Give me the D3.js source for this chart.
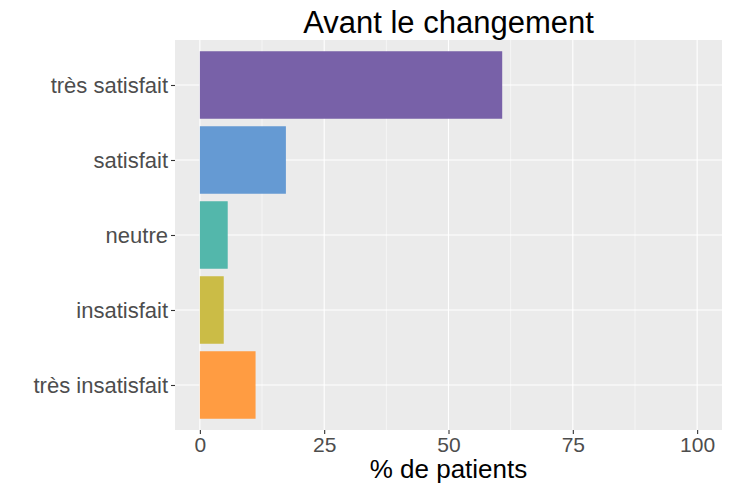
<!DOCTYPE html>
<html><head><meta charset="utf-8">
<script src="https://cdn.jsdelivr.net/npm/d3@7"></script>
<style>body{margin:0;background:#fff;} svg{display:block;font-family:Arial,"Liberation Sans",sans-serif;}</style>
</head><body>
<svg id="chart" width="730" height="490"></svg>
<script>
const categories = ["très satisfait","satisfait","neutre","insatisfait","très insatisfait"];
const values = [60.8, 17.3, 5.6, 4.8, 11.2];
const colors = ["#7861A8","#659AD3","#53B7AB","#CBBC46","#FF9C42"];
const xTicks = [0,25,50,75,100];
const title = "Avant le changement";
const xTitle = "% de patients";

(function(){
const svg = d3.select("#chart");
const pL = 175, pR = 722, pT = 40, pB = 430;
const x = d3.scaleLinear().domain([-5,105]).range([pL,pR]);
const y = d3.scalePoint().domain(categories).range([pT+45, pB-45]);
const step = y.step();
const bw = step*0.9;

svg.append("rect").attr("x",pL).attr("y",pT).attr("width",pR-pL).attr("height",pB-pT).attr("fill","#EBEBEB");
const minor = [12.5,37.5,62.5,87.5];
svg.selectAll(".minor").data(minor).enter().append("line")
  .attr("x1",d=>x(d)).attr("x2",d=>x(d)).attr("y1",pT).attr("y2",pB)
  .attr("stroke","#fff").attr("stroke-width",0.55);
svg.selectAll(".majx").data(xTicks).enter().append("line")
  .attr("x1",d=>x(d)).attr("x2",d=>x(d)).attr("y1",pT).attr("y2",pB)
  .attr("stroke","#fff").attr("stroke-width",1.1);
svg.selectAll(".majy").data(categories).enter().append("line")
  .attr("x1",pL).attr("x2",pR).attr("y1",d=>y(d)).attr("y2",d=>y(d))
  .attr("stroke","#fff").attr("stroke-width",1.1);

svg.selectAll(".bar").data(categories).enter().append("rect")
  .attr("x",x(0)).attr("y",d=>y(d)-bw/2)
  .attr("width",(d,i)=>x(values[i])-x(0)).attr("height",bw)
  .attr("fill",(d,i)=>colors[i]);

const ya = svg.append("g").attr("transform",`translate(${pL},0)`)
  .call(d3.axisLeft(y).tickSize(4).tickPadding(3));
ya.select(".domain").remove();
ya.selectAll(".tick line").attr("stroke","#333").attr("stroke-width",1.1);
ya.selectAll(".tick text").attr("fill","#4D4D4D").style("font-size","22px").attr("font-family","Arial,'Liberation Sans',sans-serif");

const xa = svg.append("g").attr("transform",`translate(0,${pB})`)
  .call(d3.axisBottom(x).tickValues(xTicks).tickSize(4).tickPadding(3));
xa.select(".domain").remove();
xa.selectAll(".tick line").attr("stroke","#333").attr("stroke-width",1.1);
xa.selectAll(".tick text").attr("fill","#4D4D4D").style("font-size","21px").attr("font-family","Arial,'Liberation Sans',sans-serif");

svg.append("text").attr("x",(pL+pR)/2).attr("y",478).attr("text-anchor","middle")
  .style("font-size","26px").attr("fill","#000").text(xTitle);
svg.append("text").attr("x",(pL+pR)/2).attr("y",33).attr("text-anchor","middle")
  .style("font-size","31px").attr("fill","#000").text(title);
})();
</script>
</body></html>
